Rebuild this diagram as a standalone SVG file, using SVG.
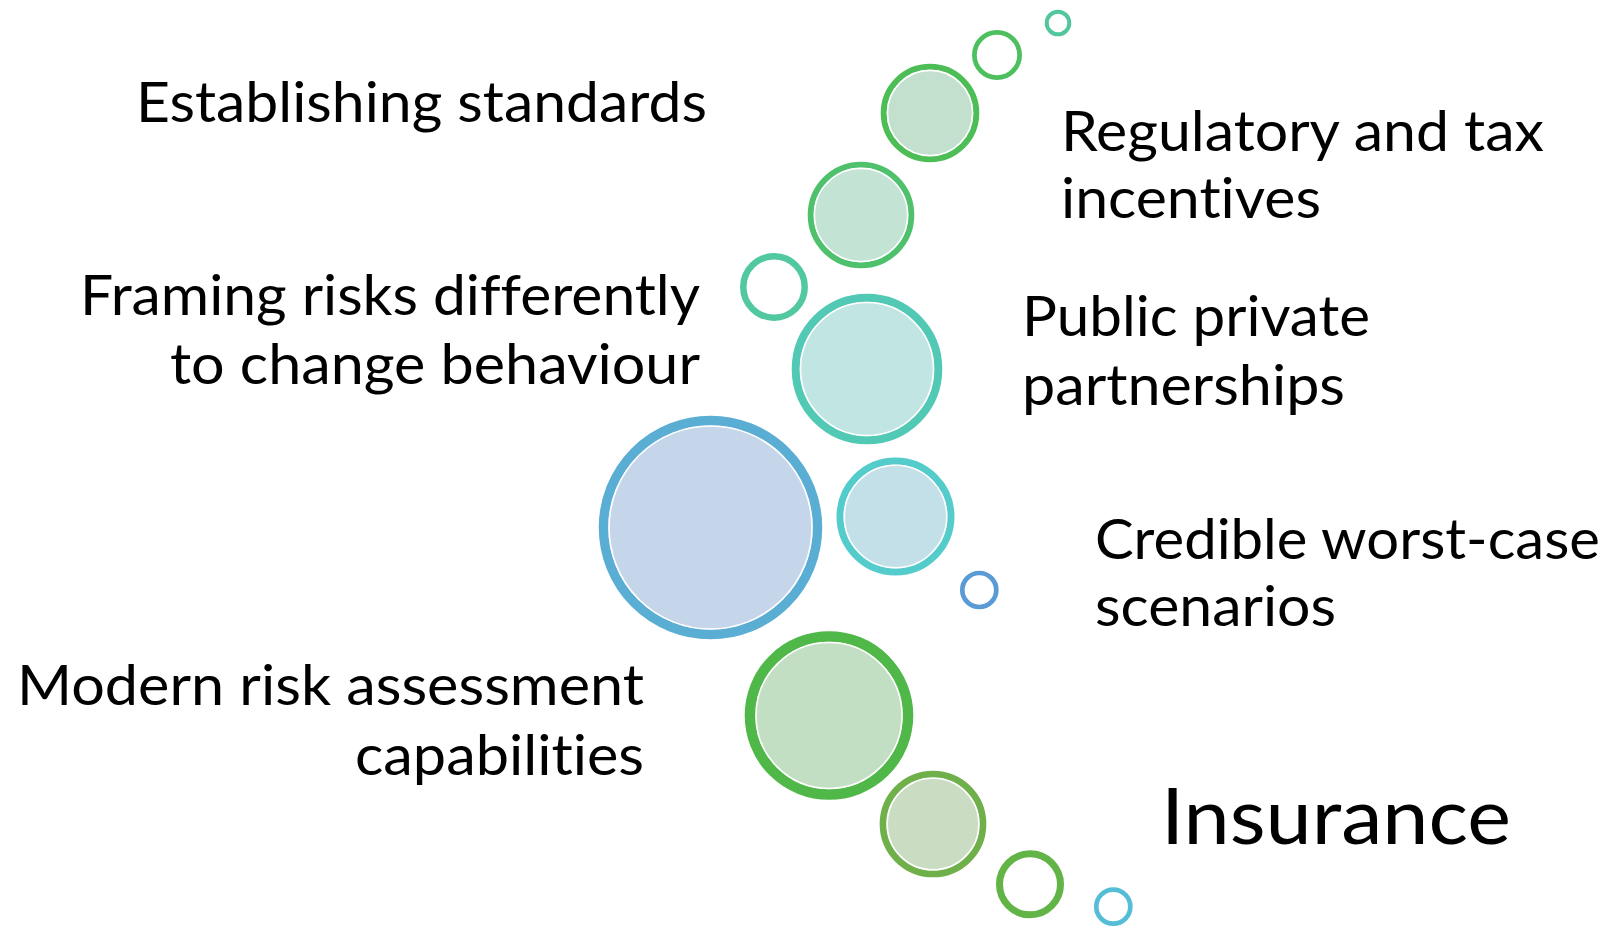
<svg xmlns="http://www.w3.org/2000/svg" width="1608" height="929" viewBox="0 0 1608 929">
  <style>
    .lbl { font-family: Lato, "Liberation Sans", sans-serif; font-size: 56px; fill: #000; font-variant-ligatures: none; }
    .big { font-size: 77px; }
    .ring { fill: none; }
    .inner { stroke: #ffffff; stroke-width: 1.6; }
  </style>
  <rect width="1608" height="929" fill="#ffffff"/>

  <!-- bubbles: outer coloured outline, then pale fill with a thin white edge -->
  <g id="bubbles">
    <g id="b-top-small"><circle class="ring" cx="1058" cy="23" r="11.3" stroke="#52c79b" stroke-width="4"/></g>
    <g id="b-top-ring"><circle class="ring" cx="997" cy="55" r="22.6" stroke="#4cbf5e" stroke-width="4.7"/></g>
    <g id="b-standards">
      <circle cx="930" cy="113" r="46.3" fill="#c3e0cf" stroke="#4cbe55" stroke-width="6"/>
      <circle class="inner" cx="930" cy="113" r="42.6" fill="#c3e0cf"/>
    </g>
    <g id="b-incentives">
      <circle cx="861" cy="215" r="50.3" fill="#c3e3d5" stroke="#4fc16c" stroke-width="6"/>
      <circle class="inner" cx="861" cy="215" r="46.6" fill="#c3e3d5"/>
    </g>
    <g id="b-mid-ring"><circle class="ring" cx="774" cy="287" r="30.7" stroke="#52c8a0" stroke-width="6.5"/></g>
    <g id="b-framing">
      <circle cx="867" cy="369" r="71.3" fill="#c1e5e3" stroke="#52c9b5" stroke-width="8"/>
      <circle class="inner" cx="867" cy="369" r="66.5" fill="#c1e5e3"/>
    </g>
    <g id="b-main">
      <circle cx="710.5" cy="527.5" r="107" fill="#c5d5ea" stroke="#5aadd3" stroke-width="9.5"/>
      <circle class="inner" cx="710.5" cy="527.5" r="101.5" fill="#c5d5ea"/>
    </g>
    <g id="b-partnerships">
      <circle cx="895.5" cy="516.5" r="55.5" fill="#c3e0e8" stroke="#55cccc" stroke-width="7"/>
      <circle class="inner" cx="895.5" cy="516.5" r="51.2" fill="#c3e0e8"/>
    </g>
    <g id="b-blue-small"><circle class="ring" cx="979.3" cy="590" r="17" stroke="#5b9bd5" stroke-width="4.7"/></g>
    <g id="b-assessment">
      <circle cx="829" cy="715.5" r="79" fill="#c2dfc3" stroke="#50b848" stroke-width="10.6"/>
      <circle class="inner" cx="829" cy="715.5" r="73" fill="#c2dfc3"/>
    </g>
    <g id="b-scenarios">
      <circle cx="933" cy="824" r="50" fill="#cadcc2" stroke="#70b04a" stroke-width="6.7"/>
      <circle class="inner" cx="933" cy="824" r="45.8" fill="#cadcc2"/>
    </g>
    <g id="b-low-ring"><circle class="ring" cx="1030" cy="884.3" r="30.5" stroke="#62b447" stroke-width="7"/></g>
    <g id="b-bottom-small"><circle class="ring" cx="1113.3" cy="906.7" r="17" stroke="#55bed6" stroke-width="4.7"/></g>
  </g>

  <!-- labels -->
  <g id="label-standards">
    <text class="lbl" x="136" y="122" textLength="571" lengthAdjust="spacingAndGlyphs">Establishing standards</text>
  </g>
  <g id="label-framing">
    <text class="lbl" x="80" y="315" textLength="620" lengthAdjust="spacingAndGlyphs">Framing risks differently</text>
    <text class="lbl" x="170" y="384" textLength="530" lengthAdjust="spacingAndGlyphs">to change behaviour</text>
  </g>
  <g id="label-assessment">
    <text class="lbl" x="17" y="705" textLength="627" lengthAdjust="spacingAndGlyphs">Modern risk assessment</text>
    <text class="lbl" x="355" y="775" textLength="289" lengthAdjust="spacingAndGlyphs">capabilities</text>
  </g>
  <g id="label-incentives">
    <text class="lbl" x="1061" y="151" textLength="483" lengthAdjust="spacingAndGlyphs">Regulatory and tax</text>
    <text class="lbl" x="1061" y="218" textLength="260" lengthAdjust="spacingAndGlyphs">incentives</text>
  </g>
  <g id="label-partnerships">
    <text class="lbl" x="1022" y="336" textLength="348" lengthAdjust="spacingAndGlyphs">Public private</text>
    <text class="lbl" x="1022" y="405" textLength="323" lengthAdjust="spacingAndGlyphs">partnerships</text>
  </g>
  <g id="label-scenarios">
    <text class="lbl" x="1095" y="559" textLength="505" lengthAdjust="spacingAndGlyphs">Credible worst-case</text>
    <text class="lbl" x="1095" y="626" textLength="241" lengthAdjust="spacingAndGlyphs">scenarios</text>
  </g>
  <g id="label-insurance">
    <text class="lbl big" x="1161" y="844" textLength="350" lengthAdjust="spacingAndGlyphs">Insurance</text>
  </g>
</svg>
